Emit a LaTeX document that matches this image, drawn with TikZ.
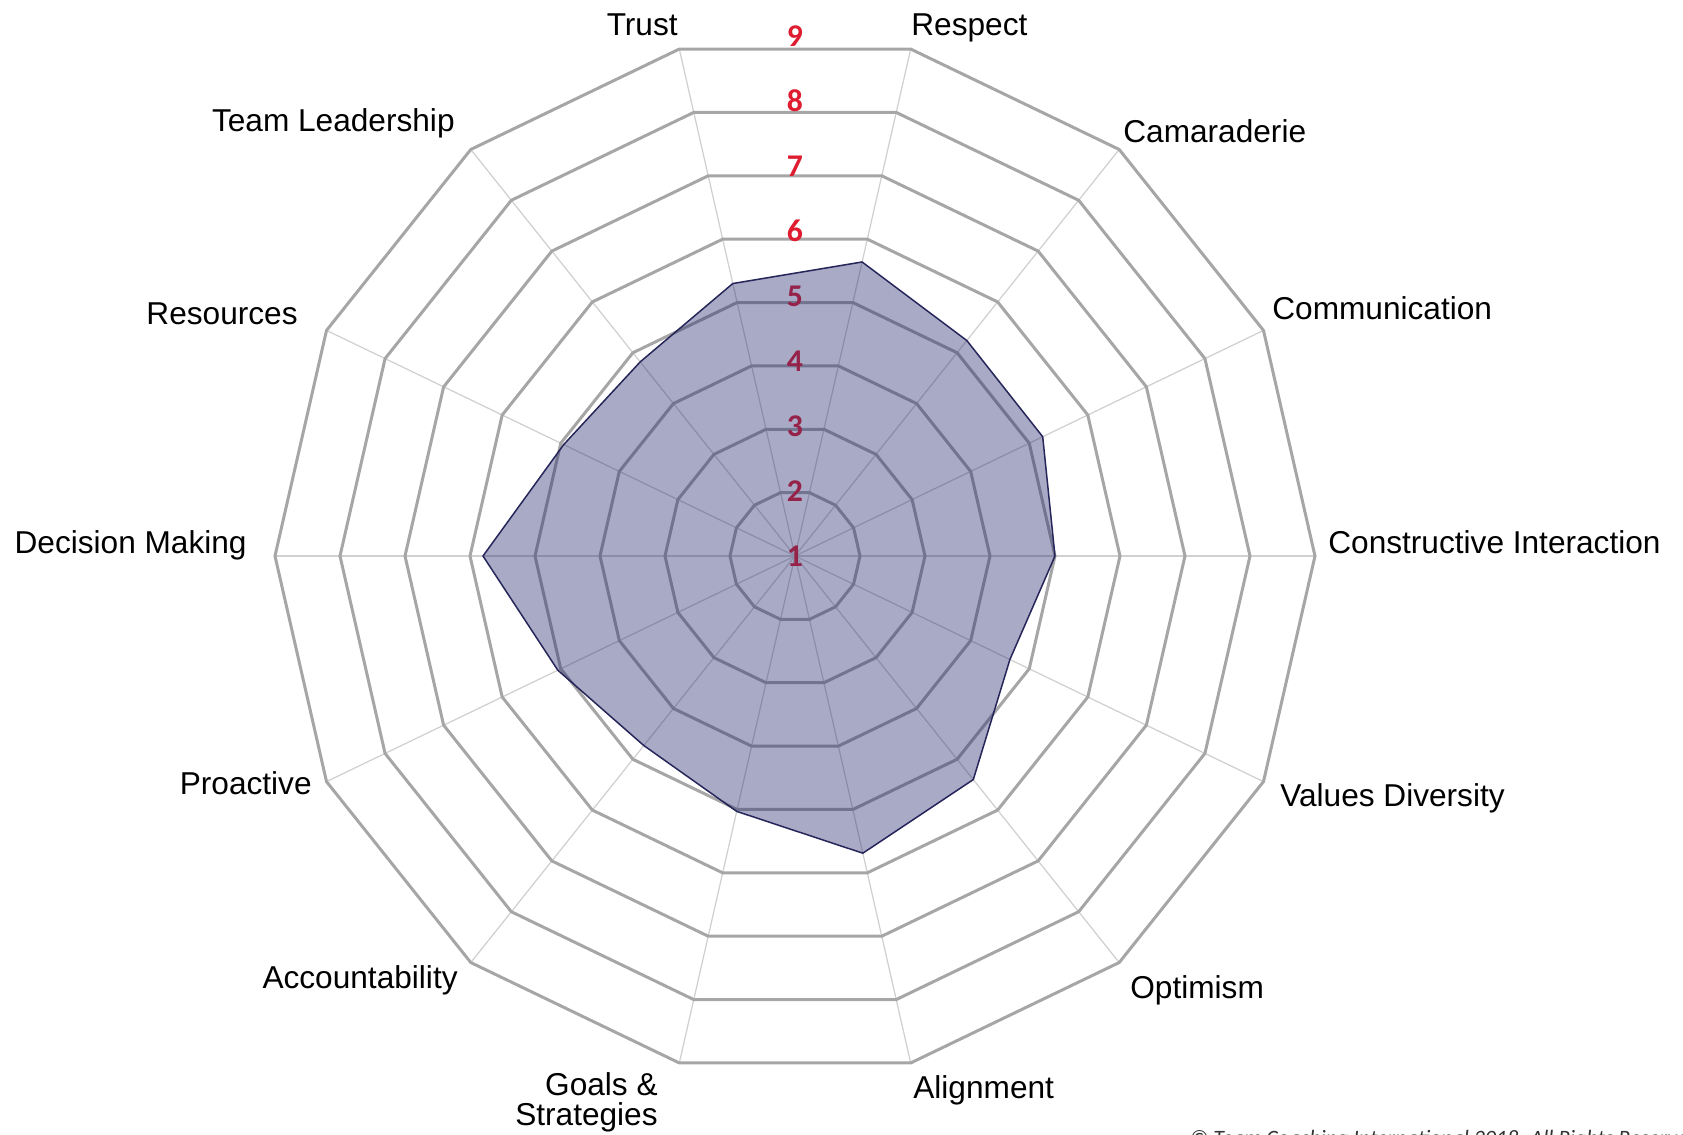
\documentclass[tikz,border=0pt]{standalone}
\usepackage{fontspec}
\setmainfont{Liberation Sans}
\newfontfamily\scorefont{Carlito}
\definecolor{ringgray}{RGB}{166,166,166}
\definecolor{spokegray}{RGB}{208,208,208}
\definecolor{scorered}{RGB}{222,30,48}
\definecolor{teamblue}{RGB}{40,42,110}
\definecolor{teamedge}{RGB}{38,38,90}

\begin{document}
\begin{tikzpicture}[x=0.02cm,y=0.02cm,
      ring/.style={draw=ringgray,line width=0.06cm},
      spoke/.style={draw=spokegray,line width=0.025cm},
      score/.style={fill=teamblue,fill opacity=0.4,draw=teamedge,draw opacity=1,line width=0.03cm},
      tick/.style={text=scorered,font=\scorefont\bfseries\fontsize{18}{20}\selectfont,inner sep=0pt},
      axislabel/.style={font=\fontsize{18}{17}\selectfont,inner sep=0pt}]
      %
         \clip (-795,-578) rectangle (888,556);
      % spokes and rings
         \foreach \k in {0,...,13}
            \draw[spoke] (0,0) -- (\k*360/14:520);
         \foreach \r in {65,130,...,520}
            \draw[ring] (0:\r) \foreach \k in {1,...,13}{ -- (\k*360/14:\r)} -- cycle;
      % scale 1 to 9
         \foreach \n in {1,...,9}
            \node[tick] (n\n) at (90:{(\n-1)*65}) {\n};
      %
         \foreach \v [count=\k from 0] in {5.0,5.23,5.24,5.64,5.3,4.82,4.95,5.8,5.05,4.73,5.03,5.69,5.4,4.67}
            \coordinate (s\k) at (\k*360/14:{(\v-1)*65});
         \draw[score] (s0) \foreach \k in {1,...,13}{ -- (s\k)} -- cycle;
      %% axis labels
         \node[axislabel,anchor=base east] (trust) at (-117,521) {Trust};
         \node[axislabel,anchor=base west] (respect) at (116,521) {Respect};
         \node[axislabel,anchor=base west] (camaraderie) at (328,414) {Camaraderie};
         \node[axislabel,anchor=base west] (communication) at (477,237) {Communication};
         \node[axislabel,anchor=base west] (interaction) at (533,3) {Constructive Interaction};
         \node[axislabel,anchor=base west] (diversity) at (485,-250) {Values Diversity};
         \node[axislabel,anchor=base west] (optimism) at (335,-442) {Optimism};
         \node[axislabel,anchor=base west] (alignment) at (118,-542) {Alignment};
         \node[axislabel,anchor=north east,align=right] (goals) at (-137,-516) {Goals \&\\Strategies};
         \node[axislabel,anchor=base east] (accountability) at (-337,-432) {Accountability};
         \node[axislabel,anchor=base east] (proactive) at (-483,-238) {Proactive};
         \node[axislabel,anchor=base east] (decision) at (-548,3) {Decision Making};
         \node[axislabel,anchor=base east] (resources) at (-497,232) {Resources};
         \node[axislabel,anchor=base east] (leadership) at (-340,425) {Team Leadership};
      %
         \node[font=\scorefont\itshape\fontsize{12.5}{14}\selectfont,text=black!80,anchor=base west] (copyright) at (389,-589) {© Team Coaching International 2018. All Rights Reserved};
   \end{tikzpicture}
\end{document}
